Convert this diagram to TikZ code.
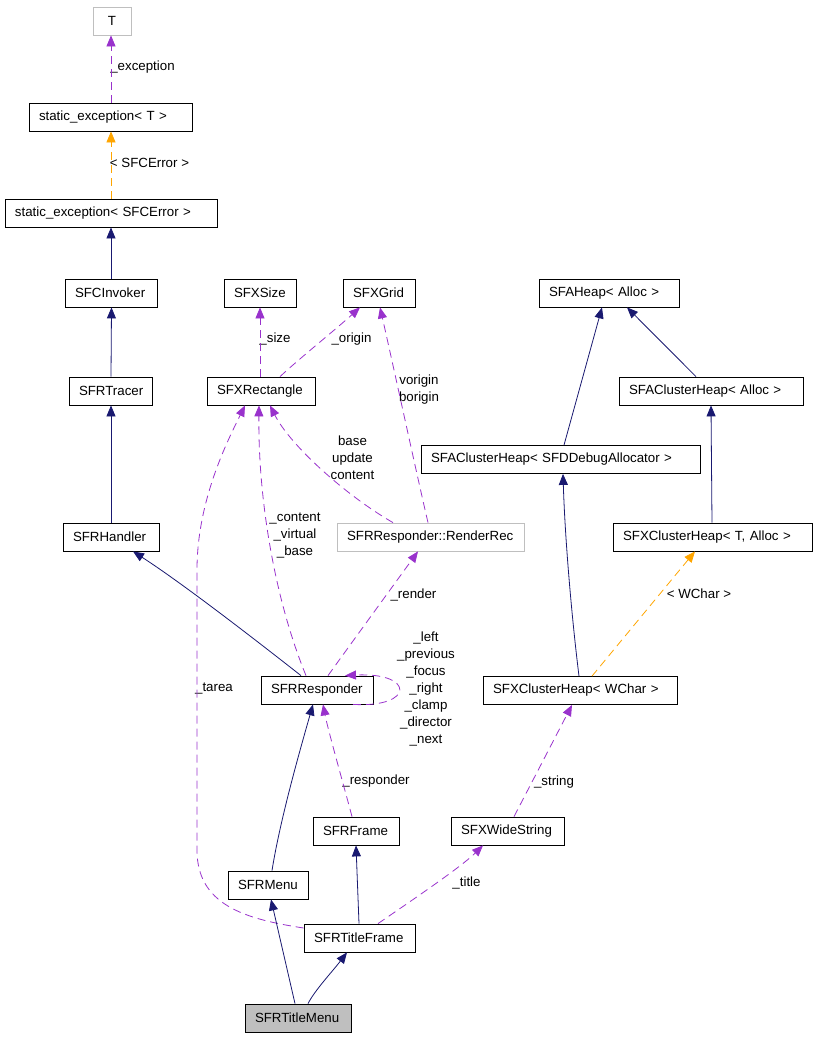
\documentclass[tikz,border=0pt]{standalone}
\usepackage{fontspec}
\setmainfont{Liberation Sans}
\usetikzlibrary{arrows.meta,calc}
\definecolor{dnavy}{RGB}{25,25,112}
\definecolor{dpurple}{RGB}{153,50,204}
\definecolor{dorange}{RGB}{255,165,0}
\definecolor{dgray}{RGB}{191,191,191}
\begin{document}
\begin{tikzpicture}[x=1pt,y=-1pt,
  font=\fontsize{13.3}{17}\selectfont,
  cls/.style={draw=black, line width=0.8pt, rectangle, minimum height=28pt,
    inner xsep=10pt, inner ysep=0pt, text width=#1, align=left},
  gcls/.style={draw=dgray, line width=0.8pt, rectangle, minimum height=28pt,
    inner xsep=10pt, inner ysep=0pt, text width=#1, align=left},
  lbl/.style={inner sep=0pt, align=center},
  inh/.style={draw=dnavy, line width=0.8pt, -{Triangle[length=11pt,width=9pt]}},
  use/.style={draw=dpurple, line width=0.8pt, dash pattern=on 8pt off 5pt, -{Triangle[length=11pt,width=9pt]}},
  tmpl/.style={draw=dorange, line width=0.8pt, dash pattern=on 8pt off 5pt, -{Triangle[length=11pt,width=9pt]}}
]
\useasboundingbox (0,0) rectangle (816,1037);

% nodes
\node[draw=dgray, line width=0.8pt, minimum width=38pt, minimum height=28pt, inner sep=0pt] (T) at (112,21) {T};
\node[cls=143pt] (seT) at (110.5,117) {static\_exception< T >};
\node[cls=192pt] (seE) at (111,213) {static\_exception< SFCError >};
\node[cls=72pt] (inv) at (111,293) {SFCInvoker};
\node[cls=63pt] (trc) at (110.5,391) {SFRTracer};
\node[cls=76pt] (hdl) at (111,537) {SFRHandler};
\node[cls=52pt] (size) at (260,293) {SFXSize};
\node[cls=52pt] (grid) at (379,293) {SFXGrid};
\node[cls=88pt] (rect) at (261,391) {SFXRectangle};
\node[gcls=167pt] (rr) at (430.5,537) {SFRResponder::RenderRec};
\node[cls=120pt] (heap) at (609,293) {SFAHeap< Alloc >};
\node[cls=164pt] (cha) at (711,391) {SFAClusterHeap< Alloc >};
\node[cls=259pt] (chd) at (560.5,459.5) {SFAClusterHeap< SFDDebugAllocator >};
\node[cls=179pt] (cht) at (712.5,537) {SFXClusterHeap< T, Alloc >};
\node[cls=92pt] (resp) at (317,690) {SFRResponder};
\node[cls=174pt] (chw) at (580,690.5) {SFXClusterHeap< WChar >};
\node[cls=66pt] (frm) at (356,831) {SFRFrame};
\node[cls=93pt] (ws) at (507.5,831) {SFXWideString};
\node[cls=60pt] (menu) at (268,885) {SFRMenu};
\node[cls=91pt] (tf) at (359.5,938) {SFRTitleFrame};
\node[cls=86pt, fill=dgray] (tm) at (298,1018) {SFRTitleMenu};

% labels
\node[lbl] (l1) at (142.5,67) {\_exception};
\node[lbl] (l2) at (149.5,163) {< SFCError >};
\node[lbl] (l3) at (275,339) {\_size};
\node[lbl] (l4) at (351.5,339) {\_origin};
\node[lbl] (l5) at (419,390) {vorigin\\borigin};
\node[lbl] (l6) at (352.5,457.5) {base\\update\\content};
\node[lbl] (l7) at (295,535.5) {\_content\\\_virtual\\\_base};
\node[lbl] (l8) at (214,689) {\_tarea};
\node[lbl] (l9) at (413.5,595) {\_render};
\node[lbl] (l10) at (426,689) {\_left\\\_previous\\\_focus\\\_right\\\_clamp\\\_director\\\_next};
\node[lbl] (l11) at (376,781) {\_responder};
\node[lbl] (l12) at (554,782) {\_string};
\node[lbl] (l13) at (699,594) {< WChar >};
\node[lbl] (l14) at (466.5,883) {\_title};

% edges
\draw[use] ([xshift=0.5]seT.north) -- ([xshift=-1]T.south);
\draw[tmpl] (seE.north) -- ([xshift=0.5]seT.south);
\draw[inh] (inv.north) -- (seE.south);
\draw[inh] ([xshift=0.5]trc.north) -- ([xshift=0.5]inv.south);
\draw[inh] (hdl.north) -- ([xshift=0.5]trc.south);
\draw[inh] ([xshift=-16]resp.north) .. controls (262,645) and (185,585) .. ([xshift=22]hdl.south);
\draw[use] ([xshift=-1]rect.north) -- (size.south);
\draw[use] ([xshift=19]rect.north) .. controls (300,358) and (335,330) .. ([xshift=-19]grid.south);
\draw[use] ([xshift=-2.5]rr.north) .. controls (418,480) and (392,360) .. ([xshift=1]grid.south);
\draw[use] ([xshift=-37.5]rr.north) .. controls (345,495) and (290,445) .. ([xshift=9]rect.south);
\draw[use] ([xshift=-11]resp.north) .. controls (275,600) and (258,500) .. ([xshift=-2]rect.south);
\draw[use] ([yshift=10]tf.west) .. controls (245,919) and (197,905) .. (197,850)
   -- (197,570) .. controls (197,500) and (228,440) .. ([xshift=-16]rect.south);
\draw[use] ([xshift=11]resp.north) .. controls (350,645) and (390,590) .. ([xshift=-12.5]rr.south);
\draw[use] ([xshift=36]resp.south) .. controls (415,708) and (415,672) .. ([xshift=28]resp.north);
\draw[inh] ([xshift=4]menu.north) .. controls (280,820) and (300,750) .. ([xshift=-4]resp.south);
\draw[use] ([xshift=-4]frm.north) .. controls (345,790) and (328,730) .. ([xshift=6]resp.south);
\draw[inh] ([xshift=-0.5]tf.north) -- (frm.south);
\draw[use] ([xshift=18.5]tf.north) .. controls (405,905) and (460,868) .. ([xshift=-24.5]ws.south);
\draw[inh] ([xshift=-3]tm.north) -- ([xshift=3]menu.south);
\draw[inh] ([xshift=10]tm.north) .. controls (315,990) and (332,972) .. ([xshift=-12.5]tf.south);
\draw[use] ([xshift=6.5]ws.north) -- ([xshift=-8]chw.south);
\draw[inh] ([xshift=-1]chw.north) .. controls (572,620) and (565,540) .. ([xshift=2.5]chd.south);
\draw[tmpl] ([xshift=12]chw.north) -- ([xshift=-17.5]cht.south);
\draw[inh] ([xshift=3.5]chd.north) -- ([xshift=-7]heap.south);
\draw[inh] ([xshift=-15]cha.north) -- ([xshift=18]heap.south);
\draw[inh] ([xshift=-0.5]cht.north) -- (cha.south);
\end{tikzpicture}
\end{document}
